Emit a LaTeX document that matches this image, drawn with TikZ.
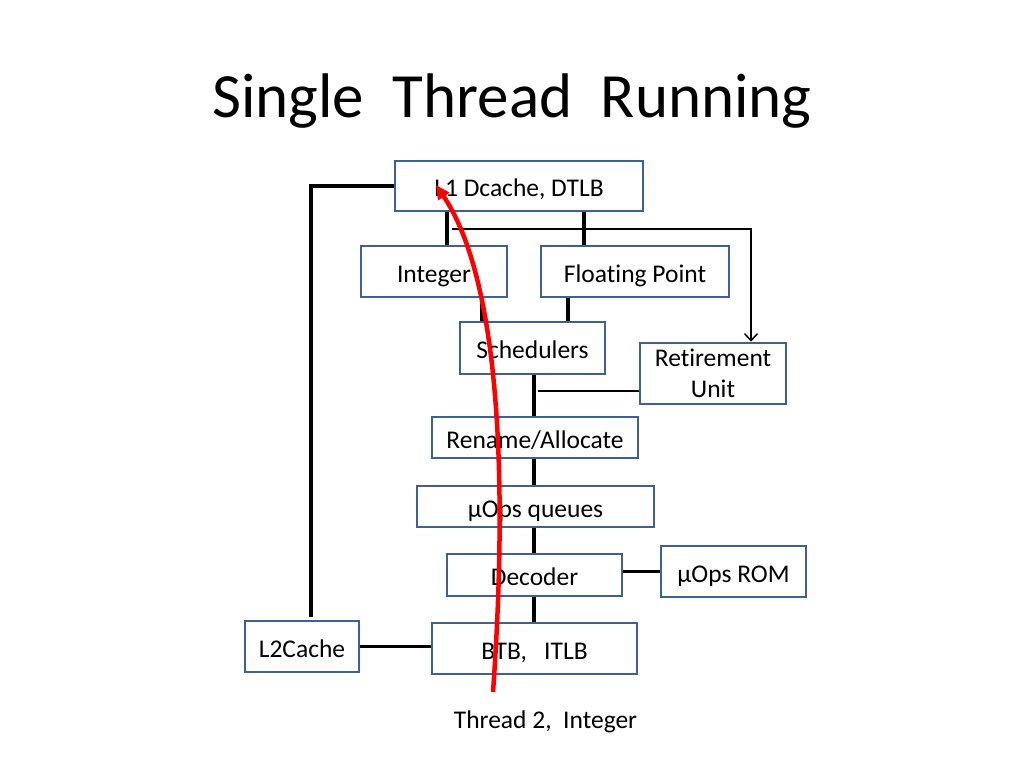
\documentclass[tikz,border=0pt]{standalone}
\usepackage{fontspec}
\setmainfont{Carlito}[Ligatures=NoCommon]
\usetikzlibrary{arrows.meta}

\definecolor{boxblue}{RGB}{62,96,146}

\begin{document}
\begin{tikzpicture}[x=1pt,y=-1pt,
    blk/.style={draw=boxblue, line width=2.6pt, inner sep=0pt, align=center,
                text height=22pt, text depth=1pt,
                font=\fontsize{25.5}{31}\selectfont},
    bus/.style={line width=3.4pt},
    wire/.style={line width=1.5pt}]
  \useasboundingbox (0,0) rectangle (1024,767);

  \node[anchor=base, font=\fontsize{63}{70}\selectfont] (title) at (512,118) {Single\ \ Thread\ \ Running};

  \node[blk, minimum width=248, minimum height=50] (l1) at (519,186) {L1 Dcache, DTLB};
  \node[blk, minimum width=146, minimum height=51] (int) at (434,271.5) {Integer};
  \node[blk, minimum width=188, minimum height=51] (fp) at (635,271.5) {Floating Point};
  \node[blk, minimum width=145, minimum height=52] (sched) at (532.5,348) {Schedulers};
  \node[blk, text height=, text depth=, minimum width=146, minimum height=61] (retire) at (713,373.5) {Retirement\\Unit};
  \node[blk, minimum width=206, minimum height=41] (rename) at (535,437.5) {Rename/Allocate};
  \node[blk, minimum width=237, minimum height=41] (uops) at (535.5,506.5) {μOps queues};
  \node[blk, minimum width=175, minimum height=42] (dec) at (534.5,575) {Decoder};
  \node[blk, minimum width=145, minimum height=51] (rom) at (733.5,571.5) {μOps ROM};
  \node[blk, minimum width=205, minimum height=51] (btb) at (534.5,648.5) {BTB,\ \ \ ITLB};
  \node[blk, minimum width=114, minimum height=51] (l2) at (302,646.5) {L2Cache};
  \node[anchor=base, font=\fontsize{25.5}{30}\selectfont] (thread) at (545.5,728) {Thread 2,\ \ Integer};

  % x positions of the short links
  \coordinate (c1) at (447,0);
  \coordinate (c2) at (584,0);
  \coordinate (c3) at (482,0);
  \coordinate (c4) at (568,0);
  \coordinate (spine) at (534,0);
  \coordinate (l2top) at (311,617);

  \draw[bus] (l1.west) -| (l2top);
  \draw[bus] (l1.south -| c1) -- (int.north -| c1);
  \draw[bus] (l1.south -| c2) -- (fp.north -| c2);
  \draw[bus] (int.south -| c3) -- (sched.north -| c3);
  \draw[bus] (fp.south -| c4) -- (sched.north -| c4);
  \draw[bus] (sched.south -| spine) -- (rename.north -| spine);
  \draw[bus] (rename.south -| spine) -- (uops.north -| spine);
  \draw[bus] (uops.south -| spine) -- (dec.north -| spine);
  \draw[bus] (dec.south -| spine) -- (btb.north -| spine);
  \draw[bus] (rom.west -| dec.east) -- (rom.west);
  \draw[bus] (l2.east) -- (l2.east -| btb.west);

  % retirement links
  \coordinate (split) at (452,229);
  \coordinate (rt) at (751,0);
  \coordinate (rw) at (538,391);
  \draw[wire, -{Straight Barb[length=7pt,width=13pt]}] (split) -| (rt |- retire.north);
  \draw[wire] (rw -| retire.west) -- (rw);

  % thread path
  \coordinate (redstart) at (493,692);
  \coordinate (redend) at (436,185);
  \draw[red, line width=4.5pt, -{Triangle[length=14pt,width=13pt]}]
    (redstart) .. controls (508,480) and (500,280) .. (redend);
\end{tikzpicture}
\end{document}
